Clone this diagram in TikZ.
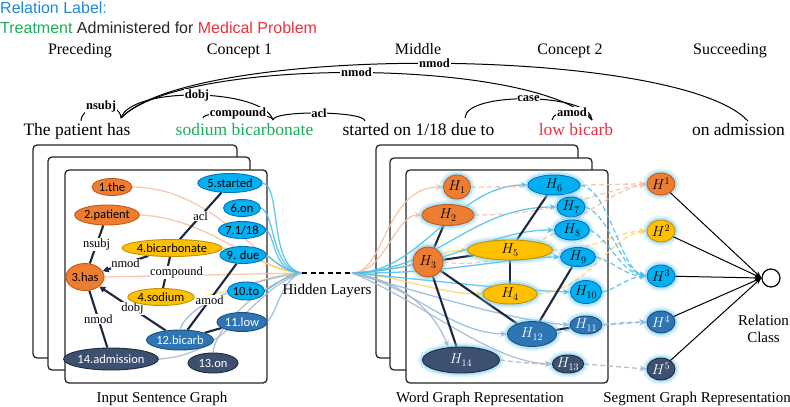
\documentclass[tikz,border=0pt]{standalone}
\usepackage{fontspec}
\setmainfont{Liberation Serif}
\newfontfamily\arialf{Liberation Sans}
\newfontfamily\calf{Carlito}
\usetikzlibrary{shapes.geometric,arrows.meta}
\definecolor{cOr}{HTML}{ED7D31}
\definecolor{cOrD}{HTML}{C55A11}
\definecolor{cYe}{HTML}{FFC000}
\definecolor{cYeD}{HTML}{BF9000}
\definecolor{cBl}{HTML}{00B0F0}
\definecolor{cBlD}{HTML}{0070C0}
\definecolor{cMb}{HTML}{2E75B6}
\definecolor{cMbD}{HTML}{1F4E79}
\definecolor{cNv}{HTML}{3E5070}
\definecolor{cNvD}{HTML}{1E2B3F}
\definecolor{cDark}{HTML}{1C2840}
\definecolor{cGlow}{HTML}{7FCFF5}
\definecolor{lSal}{HTML}{F8BFA0}
\definecolor{lYe}{HTML}{FFD45E}
\definecolor{lBl}{HTML}{45BFEF}
\definecolor{lMb}{HTML}{8DB8E4}
\definecolor{lGr}{HTML}{A9B6C8}
\definecolor{cTitle}{HTML}{1E88DC}
\definecolor{cGreen}{HTML}{1AAE5A}
\definecolor{cRed}{HTML}{F0303C}
\pgfdeclarelayer{panels}
\pgfdeclarelayer{curves}
\pgfsetlayers{panels,curves,main}
\tikzset{
 wn/.style={ellipse, inner sep=0pt, line width=0.9pt, font=\calf\fontsize{12.5}{12.5}\selectfont},
 nor/.style={wn, fill=cOr, draw=cOrD, text=black},
 nye/.style={wn, fill=cYe, draw=cYeD, text=black},
 nbl/.style={wn, fill=cBl, draw=cBlD, text=black},
 nmb/.style={wn, fill=cMb, draw=cMbD, text=white},
 nnv/.style={wn, fill=cNv, draw=cNvD, text=white},
 sz/.style 2 args={minimum width=#1pt, minimum height=#2pt},
 glow/.style={preaction={draw=cGlow, line width=9pt, draw opacity=0.22}, preaction={draw=cGlow, line width=5pt, draw opacity=0.45}},
 hn/.style={glow, font=\fontsize{14}{14}\selectfont},
 panel/.style={draw=black!85, line width=1.3pt, fill=white, rounded corners=4pt},
 dk/.style={draw=cDark, line width=2.1pt},
 dkar/.style={dk, -{Triangle[length=6pt,width=6pt]}},
 elbl/.style={fill=white, inner sep=0.6pt, font=\fontsize{12.5}{12.5}\selectfont},
 deparc/.style={draw=black, line width=1pt},
 albl/.style={fill=white, inner sep=0.8pt, font=\bfseries\fontsize{12.5}{12.5}\selectfont},
 lc/.style={line width=1.3pt, draw opacity=0.85},
 lca/.style={lc, -{Stealth[length=7pt,width=6pt]}},
 ldash/.style={lc, dash pattern=on 5pt off 3pt, -{Stealth[length=7pt,width=6pt]}},
 hdr/.style={font=\fontsize{16}{16}\selectfont, anchor=base},
 sent/.style={font=\fontsize{17.5}{17.5}\selectfont, anchor=base},
 captxt/.style={font=\fontsize{15}{15}\selectfont, anchor=base},
}
\begin{document}
\begin{tikzpicture}[x=1pt,y=-1pt]
\useasboundingbox (0,0) rectangle (790,407);

% title
\node[anchor=base west, inner sep=0, font=\arialf\fontsize{16}{16}\selectfont, text=cTitle] (t1) at (0,13) {Relation Label:};
\node[anchor=base west, inner sep=0, font=\arialf\fontsize{16}{16}\selectfont, text=black!85] (t2) at (0,33) {\textcolor{cGreen}{Treatment} Administered for \textcolor{cRed}{Medical Problem}};

% headers
\node[hdr] (h1) at (80,54) {Preceding};
\node[hdr] (h2) at (239.5,54) {Concept 1};
\node[hdr] (h3) at (418,54) {Middle};
\node[hdr] (h4) at (570,54) {Concept 2};
\node[hdr] (h5) at (730,54) {Succeeding};

% sentence
\node[sent] (s1) at (77,135) {The patient has};
\node[sent, text=cGreen] (s2) at (244.5,135) {sodium bicarbonate};
\node[sent] (s3) at (418.5,135) {started on 1/18 due to};
\node[sent, text=cRed] (s4) at (576,135) {low bicarb};
\node[sent] (s5) at (738.5,135) {on admission};

% dependency arcs
\coordinate (wPat) at (81,121);
\coordinate (wHas) at (121,118);
\coordinate (wSod) at (203,118);
\coordinate (wBicn) at (273,120);
\coordinate (wStart) at (365,121);
\coordinate (wTo) at (465,118);
\coordinate (wLow) at (552,120);
\coordinate (wBicb) at (592,120);
\coordinate (wAdm) at (748,121);
\draw[deparc] (wHas) .. controls +(70,-75) and +(-70,-75) .. node[albl]{nmod} (wAdm);
\draw[deparc] (wHas) .. controls +(60,-62) and +(-60,-62) .. node[albl]{nmod} (wBicb);
\draw[deparc] (wHas) .. controls +(10,-32) and +(-10,-32) .. node[albl]{dobj} (wBicn);
\draw[deparc] (wHas) .. controls +(0,-17) and +(0,-17) .. node[albl]{nsubj} (wPat);
\draw[deparc] (wSod) .. controls +(0,-8) and +(0,-8) .. node[albl]{compound} (wBicn);
\draw[deparc] (wBicn) .. controls +(0,-10) and +(0,-10) .. node[albl]{acl} (wStart);
\draw[deparc] (wTo) .. controls +(0,-27) and +(0,-27) .. node[albl]{case} (wBicb);
\draw[deparc] (wLow) .. controls +(0,-11) and +(0,-11) .. node[albl]{amod} (wBicb);

% panels
\begin{pgfonlayer}{panels}
\draw[panel] (33,145) rectangle (237,358);
\draw[panel] (48,157) rectangle (250,370);
\draw[panel] (65,170) rectangle (267,383);
\draw[panel] (376,145) rectangle (578,358);
\draw[panel] (390,158) rectangle (592,370);
\draw[panel] (406,170) rectangle (608,383);
\end{pgfonlayer}

% left nodes
\node[nor,sz={40}{17}] (lthe) at (112,187) {1.the};
\node[nor,sz={63}{20}] (lpatient) at (107,215) {2.patient};
\node[nor,sz={36}{27}] (lhas) at (85,277) {3.has};
\node[nye,sz={100}{17}] (lbicarbonate) at (172,248) {4.bicarbonate};
\node[nye,sz={65}{17}] (lsodium) at (161,297) {4.sodium};
\node[nbl,sz={64}{19}] (lstarted) at (230,183) {5.started};
\node[nbl,sz={37}{17}] (lon) at (242,208) {6.on};
\node[nbl,sz={47}{17}] (l118) at (242,230) {7.1/18};
\node[nbl,sz={43}{17}] (ldue) at (243,255) {9. due};
\node[nbl,sz={37}{18}] (lto) at (246,291) {10.to};
\node[nmb,sz={50}{19}] (llow) at (242,322) {11.low};
\node[nmb,sz={66}{20}] (lbicarb) at (180,340) {12.bicarb};
\node[nnv,sz={50}{20}] (lon13) at (213,363) {13.on};
\node[nnv,sz={92}{22}] (ladm) at (111,359) {14.admission};

% middle nodes
\node[nor,hn,sz={27}{24}] (H1) at (457,187) {$H_{1}$};
\node[nor,hn,sz={52}{21}] (H2) at (448,215) {$H_{2}$};
\node[nor,hn,sz={30}{30}] (H3) at (428,262) {$H_{3}$};
\node[nye,hn,sz={85}{20}] (H5) at (510,250) {$H_{5}$};
\node[nye,hn,sz={54}{20}] (H4) at (510,294) {$H_{4}$};
\node[nbl,hn,sz={52}{20}] (H6) at (554,185) {$H_{6}$};
\node[nbl,hn,sz={28}{20}] (H7) at (571,207) {$H_{7}$};
\node[nbl,hn,sz={35}{20}] (H8) at (572,230) {$H_{8}$};
\node[nbl,hn,sz={35}{19}] (H9) at (578,257) {$H_{9}$};
\node[nbl,hn,sz={23}{23}] (H10) at (586,292) {$H_{10}$};
\node[nmb,hn,sz={32}{18}] (H11) at (586,325) {$H_{11}$};
\node[nmb,hn,sz={49}{25}] (H12) at (532,334) {$H_{12}$};
\node[nnv,hn,sz={31}{18}] (H13) at (568,364) {$H_{13}$};
\node[nnv,hn,sz={77}{26}] (H14) at (461,360) {$H_{14}$};

% segment nodes
\node[nor,hn,sz={28}{22}] (S1) at (661,184) {$H^{1}$};
\node[nye,hn,sz={28}{22}] (S2) at (661,231) {$H^{2}$};
\node[nbl,hn,sz={28}{22}] (S3) at (661,276) {$H^{3}$};
\node[nmb,hn,sz={28}{22}] (S4) at (661,322) {$H^{4}$};
\node[nnv,hn,sz={28}{22}] (S5) at (661,369) {$H^{5}$};
\node[circle, draw, line width=1.2pt, minimum size=18pt, inner sep=0pt, fill=white] (rel) at (771,278) {};
\foreach \s in {S1,S2,S3,S4,S5}{
  \draw[line width=1pt, -{Stealth[length=7pt,width=5pt]}] (\s) -- (rel.west);
}

% texts
\node[captxt] (hl) at (327,294) {Hidden Layers};
\node[captxt] (rc1) at (763.5,325) {Relation};
\node[captxt] (rc2) at (763.5,342) {Class};
\node[captxt] (c1) at (162,402) {Input Sentence Graph};
\node[captxt] (c2) at (480,402) {Word Graph Representation};
\node[captxt] (c3) at (697,402) {Segment Graph Representation};

\coordinate (fanL) at (302,273);
\coordinate (fanR) at (352,273);

\begin{pgfonlayer}{curves}
% left light curves
\draw[lc, draw=lSal] (lthe.east) .. controls (215,188) and (255,265) .. (fanL);
\draw[lc, draw=lSal] (lpatient.east) .. controls (210,218) and (250,268) .. (fanL);
\draw[lc, draw=lSal] (lhas.east) -- (fanL);
\draw[lc, draw=lYe] (lbicarbonate.east) .. controls (250,250) and (270,272) .. (fanL);
\draw[lc, draw=lYe] (lsodium.east) .. controls (240,292) and (265,274) .. (fanL);
\draw[lc, draw=lBl] (lstarted.east) .. controls (282,186) and (268,268) .. (fanL);
\draw[lc, draw=lBl] (lon.east) .. controls (276,214) and (270,270) .. (fanL);
\draw[lc, draw=lBl] (l118.east) .. controls (276,236) and (272,272) .. (fanL);
\draw[lc, draw=lBl] (ldue.east) .. controls (272,258) and (282,272) .. (fanL);
\draw[lc, draw=lBl] (lto.east) .. controls (276,285) and (286,274) .. (fanL);
\draw[lc, draw=lMb] (lbicarb.north) .. controls (190,300) and (260,278) .. (fanL);
\draw[lc, draw=lMb] (llow.east) .. controls (278,310) and (282,278) .. (fanL);
\draw[lc, draw=lGr] (ladm.east) .. controls (230,355) and (250,290) .. (fanL);
\draw[lc, draw=lGr] (lon13.north) .. controls (215,330) and (255,285) .. (fanL);
\draw[line width=1.3pt, dash pattern=on 5pt off 3.5pt] (fanL) -- (fanR);
% middle light curves
\draw[lca, draw=lSal] (fanR) .. controls (385,273) and (385,187) .. (H1.west);
\draw[lca, draw=lSal] (fanR) .. controls (385,273) and (395,215) .. (H2.west);
\draw[lca, draw=lYe] (fanR) .. controls (420,270) and (440,250) .. (H5.west);
\draw[lca, draw=lYe] (fanR) .. controls (400,276) and (440,294) .. (H4.west);
\draw[lca, draw=lBl] (fanR) .. controls (420,275) and (455,185) .. (H6.west);
\draw[lca, draw=lBl] (fanR) .. controls (440,270) and (470,207) .. (H7.west);
\draw[lca, draw=lBl] (fanR) .. controls (450,268) and (490,230) .. (H8.west);
\draw[lca, draw=lBl] (fanR) .. controls (450,274) and (510,257) .. (H9.west);
\draw[lca, draw=lBl] (fanR) .. controls (430,280) and (510,290) .. (H10.west);
\draw[lca, draw=lMb] (fanR) .. controls (410,285) and (450,333) .. (H12.west);
\draw[lca, draw=lMb] (fanR) .. controls (430,295) and (510,320) .. (H11.west);
\draw[lca, draw=lGr] (fanR) .. controls (400,280) and (434,310) .. (H14.135);
\draw[lca, draw=lGr] (fanR) .. controls (420,300) and (490,362) .. (H13.west);
% dashed to segments
\draw[ldash, draw=lSal] (H1.east) .. controls (550,187) and (600,184) .. (S1.west);
\draw[ldash, draw=lSal] (H2.east) .. controls (560,215) and (600,190) .. (S1.west);
\draw[ldash, draw=lSal] (H3.east) .. controls (530,275) and (590,195) .. (S1.west);
\draw[ldash, draw=lYe] (H5.east) .. controls (600,250) and (615,231) .. (S2.west);
\draw[ldash, draw=lYe] (H4.east) .. controls (590,290) and (610,235) .. (S2.west);
\draw[ldash, draw=lBl] (H6.east) .. controls (610,190) and (620,270) .. (S3.west);
\draw[ldash, draw=lBl] (H7.east) .. controls (610,215) and (620,270) .. (S3.west);
\draw[ldash, draw=lBl] (H8.east) .. controls (610,240) and (620,272) .. (S3.west);
\draw[ldash, draw=lBl] (H9.east) .. controls (615,262) and (625,276) .. (S3.west);
\draw[ldash, draw=lBl] (H10.east) .. controls (615,290) and (625,278) .. (S3.west);
\draw[ldash, draw=lMb] (H12.east) .. controls (560,330) and (610,322) .. (S4.west);
\draw[ldash, draw=lMb] (H11.east) -- (S4.west);
\draw[ldash, draw=lGr] (H14.east) .. controls (500,360) and (530,364) .. (H13.west);
\draw[ldash, draw=lGr] (H13.east) -- (S5.west);
% left dark edges
\draw[dk] (lpatient) -- node[elbl]{nsubj} (lhas);
\draw[dkar] (lbicarbonate) -- node[elbl]{nmod} (lhas);
\draw[dk] (lbicarbonate) -- node[elbl]{acl} (lstarted);
\draw[dk] (lbicarbonate) -- node[elbl, xshift=10pt]{compound} (lsodium);
\draw[dk] (ldue) -- node[elbl, pos=0.55]{amod} (lbicarb);
\draw[dk] (llow) -- (lbicarb);
\draw[dkar] (lbicarb) -- node[elbl]{dobj} (lhas);
\draw[dk] (ladm) -- node[elbl]{nmod} (lhas);
% middle dark edges
\draw[dk] (H2) -- (H3);
\draw[dk] (H3) -- (H5);
\draw[dk] (H5) -- (H6);
\draw[dk] (H5) -- (H4);
\draw[dk] (H3) -- (H12);
\draw[dk] (H3) -- (H14);
\draw[dk] (H12) -- (H9);
\draw[dk] (H12) -- (H11);
\end{pgfonlayer}
\end{tikzpicture}
\end{document}
